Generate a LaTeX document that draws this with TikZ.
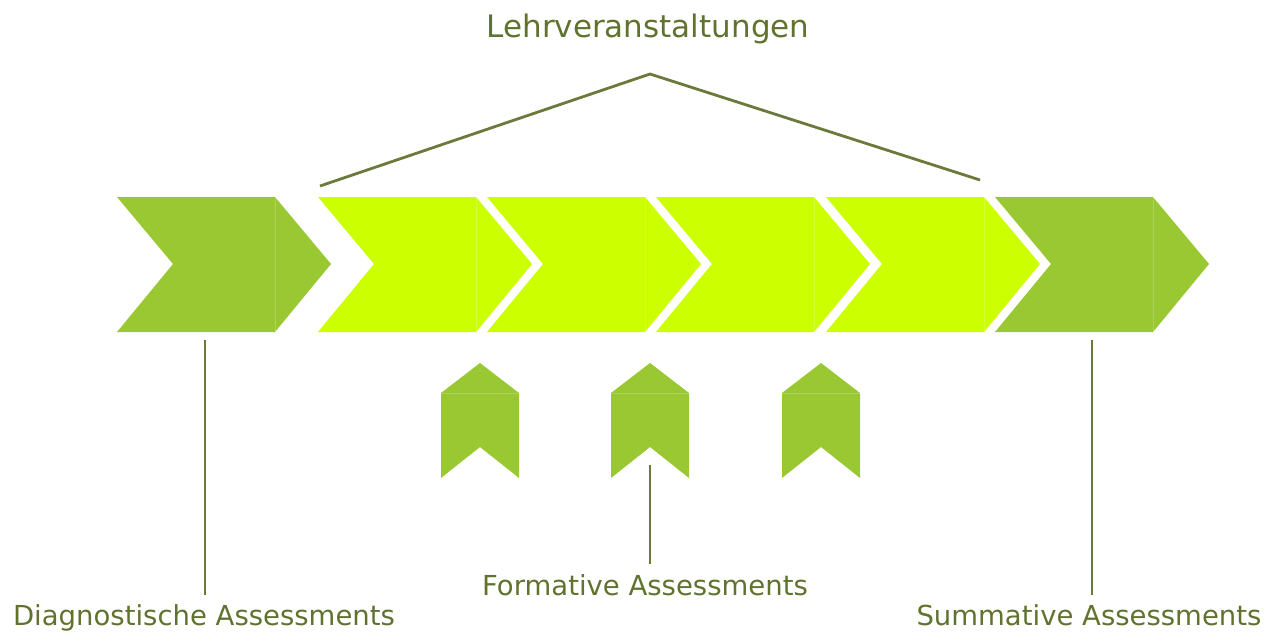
\documentclass[tikz,border=0pt]{standalone}
\usepackage{fontspec}
\setmainfont{DejaVu Sans}
\definecolor{darkgr}{HTML}{99C833}
\definecolor{lightgr}{HTML}{CCFF00}
\definecolor{linecol}{HTML}{6B7A3A}
\definecolor{textcol}{HTML}{60732E}
\begin{document}
\begin{tikzpicture}[x=1pt,y=-1pt,
  lbl/.style={text=textcol,font=\fontsize{27.5}{32}\selectfont,inner sep=0pt,anchor=base},
  title/.style={text=textcol,font=\fontsize{31}{36}\selectfont,inner sep=0pt,anchor=base},
  conn/.style={draw=linecol,line width=2.8pt},
  seam/.style={draw=white,opacity=0.2,line width=0.8pt}]
\useasboundingbox (0,0) rectangle (1269,632);
% big chevrons: x0, width 214, notch depth 56
\newcommand{\bigchev}[2]{%
  \fill[#2] (#1,197) -- ++(158,0) -- ++(56,67) -- ++(-56,68) -- ++(-158,0) -- ++(56,-68) -- cycle;
  \draw[seam] (#1+158,197) -- (#1+158,332);}
\bigchev{117}{darkgr}
\bigchev{318}{lightgr}
\bigchev{487}{lightgr}
\bigchev{656}{lightgr}
\bigchev{826}{lightgr}
\bigchev{995}{darkgr}
% small up chevrons
\newcommand{\smallchev}[1]{%
  \fill[darkgr] (#1,363) -- (#1+39,393) -- (#1+39,478) -- (#1,447) -- (#1-39,478) -- (#1-39,393) -- cycle;
  \draw[seam] (#1-39,393) -- (#1+39,393);}
\smallchev{480}
\smallchev{650}
\smallchev{821}
% labels
\node[title] (lehr) at (648,37) {Lehrveranstaltungen};
\node[lbl] (diag) at (204,625) {Diagnostische Assessments};
\node[lbl] (form) at (645,595) {Formative Assessments};
\node[lbl] (summ) at (1089,625) {Summative Assessments};
% connector coordinates
\coordinate (roofL) at (320,186);
\coordinate (roofT) at (650,74);
\coordinate (roofR) at (980,180);
\coordinate (diagT) at (205,340);
\coordinate (diagB) at (205,595);
\coordinate (formT) at (650,465);
\coordinate (formB) at (650,564);
\coordinate (summT) at (1092,340);
\coordinate (summB) at (1092,595);
\draw[conn] (roofL) -- (roofT) -- (roofR);
\draw[conn] (diagT) -- (diagB);
\draw[conn] (formT) -- (formB);
\draw[conn] (summT) -- (summB);
\end{tikzpicture}
\end{document}
